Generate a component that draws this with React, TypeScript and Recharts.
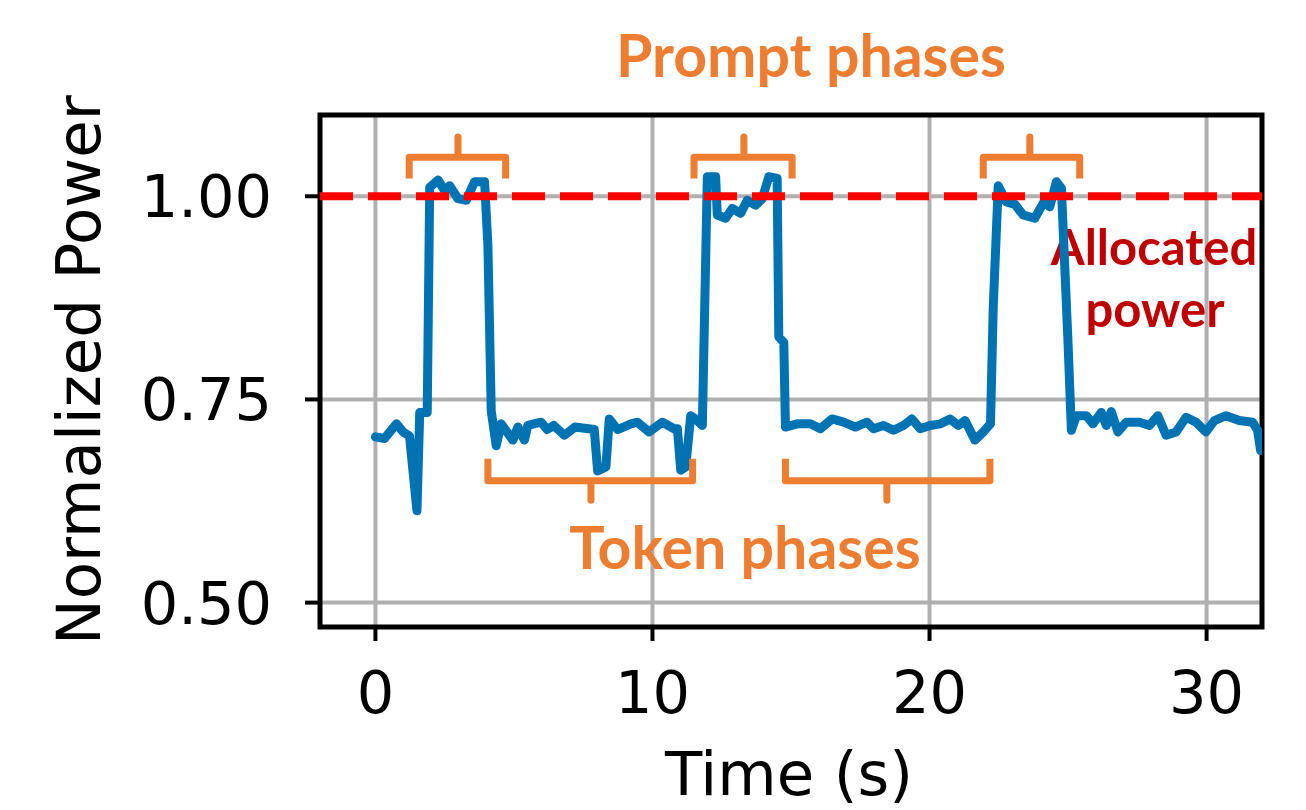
import { LineChart, Line, XAxis, YAxis, CartesianGrid, ReferenceLine, ReferenceArea, Customized } from 'recharts';

// time (s) and normalized power
const time = [
  0, 0.33, 0.76, 1.0, 1.23, 1.5, 1.6, 1.87, 1.96, 2.26, 2.5, 2.68, 2.98, 3.28, 3.58, 3.94,
  4.06, 4.18, 4.36, 4.54, 4.96, 5.14, 5.38, 5.5, 5.98, 6.2, 6.44, 6.82, 7.2, 7.9, 8.02, 8.32,
  8.44, 8.74, 9.22, 9.46, 9.88, 10.36, 10.78, 10.9, 11.02, 11.2, 11.38, 11.56, 11.8, 11.98,
  12.28, 12.34, 12.64, 12.88, 13.18, 13.42, 13.72, 13.96, 14.2, 14.5, 14.56, 14.74, 14.8,
  15.22, 15.7, 16.06, 16.48, 16.9, 17.32, 17.74, 17.98, 18.34, 18.7, 19.06, 19.36, 19.66,
  20.02, 20.4, 20.74, 21.04, 21.28, 21.64, 21.94, 22.2, 22.3, 22.48, 22.78, 23.08, 23.38,
  23.8, 24.16, 24.34, 24.58, 24.76, 25.0, 25.12, 25.3, 25.66, 25.9, 26.2, 26.38, 26.56,
  26.8, 27.1, 27.58, 27.94, 28.24, 28.54, 28.9, 29.26, 29.62, 29.98, 30.28, 30.7, 31.18,
  31.66, 31.84, 31.95,
];
const power = [
  0.704, 0.702, 0.72, 0.71, 0.705, 0.613, 0.734, 0.734, 1.011, 1.02, 1.007, 1.013, 0.997, 0.995, 1.018, 1.018,
  0.94, 0.736, 0.693, 0.72, 0.7, 0.716, 0.7, 0.718, 0.722, 0.713, 0.718, 0.706, 0.716, 0.713, 0.662, 0.667,
  0.726, 0.713, 0.72, 0.722, 0.71, 0.722, 0.714, 0.714, 0.663, 0.667, 0.73, 0.726, 0.718, 1.024,
  1.024, 0.977, 0.973, 0.985, 0.979, 0.995, 0.989, 0.997, 1.024, 1.022, 0.827, 0.82, 0.716,
  0.72, 0.72, 0.714, 0.726, 0.722, 0.716, 0.722, 0.714, 0.718, 0.712, 0.718, 0.726, 0.714,
  0.718, 0.72, 0.726, 0.718, 0.724, 0.7, 0.71, 0.72, 0.864, 1.013, 0.993, 0.99, 0.977,
  0.973, 0.995, 0.987, 1.018, 1.01, 0.819, 0.712, 0.73, 0.73, 0.72, 0.734, 0.718, 0.735,
  0.71, 0.722, 0.722, 0.718, 0.73, 0.706, 0.71, 0.728, 0.722, 0.71, 0.724, 0.73, 0.724,
  0.722, 0.712, 0.687,
];

const xTicks = [0, 10, 20, 30];
const yTicks = [0.5, 0.75, 1.0];
const allocated = 1.0;

// bracket spans (s)
const promptStart = [1.22, 11.5, 21.94];
const promptEnd = [4.7, 15.04, 25.42];
const promptMid = [2.98, 13.3, 23.62];
const tokenStart = [4.06, 14.8];
const tokenEnd = [11.45, 22.18];
const tokenMid = [7.78, 18.46];

const orange = '#ED7D31';
const blue = '#0173B2';

const data = time.map((t, i) => ({ t, p: power[i] }));

// bracket shape: ends, bar, tip
function bracket(a: number, b: number, m: number, end: number, bar: number, tip: number) {
  return [
    { t: a, p: end },
    { t: a, p: bar },
    { t: m, p: bar },
    { t: m, p: tip },
    { t: m, p: bar },
    { t: b, p: bar },
    { t: b, p: end },
  ];
}
const promptBrackets = promptStart.map((a, i) => bracket(a, promptEnd[i], promptMid[i], 1.022, 1.048, 1.073));
const tokenBrackets = tokenStart.map((a, i) => bracket(a, tokenEnd[i], tokenMid[i], 0.677, 0.65, 0.626));

const tickFont = { fontFamily: 'DejaVu Sans', fontSize: 59, fill: '#000' };
const noteFont = 'Lato, "Open Sans", sans-serif';

function Notes() {
  return (
    <g fontFamily={noteFont} fontWeight="bold">
      <text x={811} y={77} textAnchor="middle" fontSize={59} fill={orange}>Prompt phases</text>
      <text x={745} y={569} textAnchor="middle" fontSize={59} fill={orange}>Token phases</text>
      <text x={1154} y={265} textAnchor="middle" fontSize={49} fill="#C00000">Allocated</text>
      <text x={1155} y={327} textAnchor="middle" fontSize={49} fill="#C00000">power</text>
      <text x={789} y={795} textAnchor="middle" fontFamily="DejaVu Sans" fontWeight="normal" fontSize={61} fill="#000">Time (s)</text>
      <text x={0} y={0} transform="translate(100 370) rotate(-90)" textAnchor="middle" fontFamily="DejaVu Sans" fontWeight="normal" fontSize={61} fill="#000">Normalized Power</text>
    </g>
  );
}

export default function App() {
  return (
    <div style={{ position: 'absolute', left: 0, top: 0, background: '#fff' }}>
      <LineChart width={1306} height={810} data={data} margin={{ top: 115, right: 44, left: 0, bottom: 0 }}>
        <CartesianGrid stroke="#b0b0b0" strokeWidth={4} horizontalValues={yTicks} verticalValues={xTicks} />
        <XAxis
          dataKey="t"
          type="number"
          domain={[-2, 32]}
          ticks={xTicks}
          allowDataOverflow
          height={183}
          tick={tickFont}
          tickSize={14}
          tickMargin={30}
          axisLine={false}
          tickLine={{ stroke: '#000', strokeWidth: 4 }}
        />
        <YAxis
          type="number"
          domain={[0.47, 1.1]}
          ticks={yTicks}
          allowDataOverflow
          width={320}
          tick={tickFont}
          tickFormatter={(v: number) => v.toFixed(2)}
          tickSize={15}
          tickMargin={33}
          axisLine={false}
          tickLine={{ stroke: '#000', strokeWidth: 4 }}
        />
        <Line dataKey="p" stroke={blue} strokeWidth={9} strokeLinejoin="round" strokeLinecap="round" dot={false} isAnimationActive={false} />
        {promptBrackets.map((b, i) => (
          <Line key={'pb' + i} data={b} dataKey="p" stroke={orange} strokeWidth={7} strokeLinejoin="round" dot={false} isAnimationActive={false} />
        ))}
        {tokenBrackets.map((b, i) => (
          <Line key={'tb' + i} data={b} dataKey="p" stroke={orange} strokeWidth={7} strokeLinejoin="round" dot={false} isAnimationActive={false} />
        ))}
        <ReferenceLine y={allocated} stroke="#ff0000" strokeWidth={8} strokeDasharray="33 15" />
        <ReferenceArea x1={-2} x2={32} y1={0.47} y2={1.1} fill="none" stroke="#000" strokeWidth={5} />
        <Customized component={Notes} />
      </LineChart>
    </div>
  );
}
